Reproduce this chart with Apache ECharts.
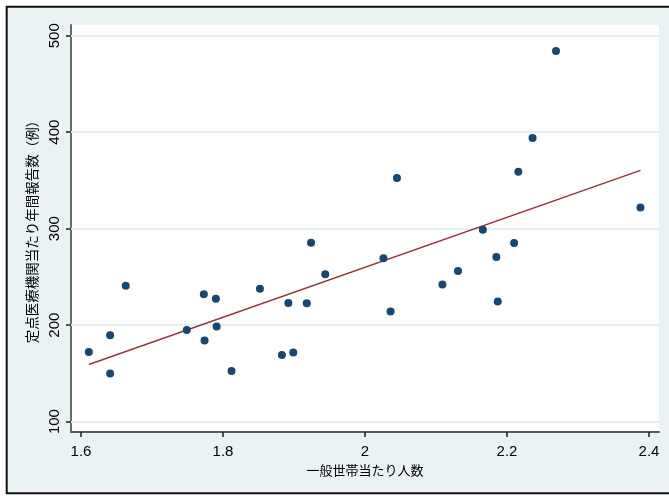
<!DOCTYPE html>
<html>
<head>
<meta charset="utf-8">
<script src="https://cdn.jsdelivr.net/npm/echarts@6/dist/echarts.min.js"></script>
<style>
html,body{margin:0;padding:0;background:#fff;}
#chart{width:669px;height:496px;}
</style>
</head>
<body>
<div id="chart"></div>
<script>
// Data
const householdSize = [1.611,1.641,1.641,1.663,1.749,1.773,1.774,1.790,1.791,1.812,1.852,1.883,1.892,1.899,1.918,1.924,1.944,2.026,2.036,2.045,2.109,2.131,2.166,2.185,2.187,2.210,2.216,2.236,2.269,2.388];
const reports = [172.2,189.5,149.8,240.7,195.0,232.0,184.0,227.2,198.5,152.5,237.6,169.1,223.0,171.6,222.7,285.3,252.8,269.4,214.1,352.4,242.1,256.2,298.8,270.7,224.5,285.0,358.9,393.9,484.1,322.0];
const fitX = [1.611, 2.388];
const fitY = [159.1, 360.4];
const xTicks = [1.6, 1.8, 2.0, 2.2, 2.4];
const yTicks = [100, 200, 300, 400, 500];
const xTitle = '一般世帯当たり人数';
const yTitle = '定点医療機関当たり年間報告数（例）';

const scatterData = householdSize.map((x, i) => [x, reports[i]]);
const fitData = fitX.map((x, i) => [x, fitY[i]]);

const chart = echarts.init(document.getElementById('chart'), null, {renderer: 'canvas'});
chart.setOption({
  animation: false,
  backgroundColor: '#ffffff',
  graphic: [{
    type: 'rect',
    z: -10,
    shape: {x: 6.7, y: 6.7, width: 700, height: 486.6},
    style: {fill: '#eaf2f3', stroke: '#111111', lineWidth: 2}
  }],
  grid: {
    left: 71, right: 10, top: 25, bottom: 64,
    show: true, backgroundColor: '#ffffff', borderWidth: 0
  },
  xAxis: {
    type: 'value',
    min: 1.5859, max: 2.4141,
    name: xTitle,
    nameLocation: 'middle',
    nameGap: 26,
    nameTextStyle: {fontFamily: 'Noto Sans CJK JP', fontSize: 13, color: '#000'},
    axisLine: {show: true, onZero: false, lineStyle: {color: '#5a5a5a', width: 2}},
    axisTick: {show: true, length: 5, customValues: xTicks, lineStyle: {color: '#222', width: 1.5}},
    axisLabel: {customValues: xTicks, margin: 12, fontFamily: 'Liberation Sans', fontSize: 15, color: '#000',
      formatter: v => String(Math.round(v * 10) / 10)},
    splitLine: {show: false}
  },
  yAxis: {
    type: 'value',
    min: 89.2, max: 511.1,
    name: yTitle,
    nameLocation: 'middle',
    nameRotate: 90,
    nameGap: 25,
    nameTextStyle: {fontFamily: 'Noto Sans CJK JP', fontSize: 13.5, color: '#000'},
    axisLine: {show: true, onZero: false, lineStyle: {color: '#6a6a6a', width: 2}},
    axisTick: {show: true, length: 5, customValues: yTicks, lineStyle: {color: '#222', width: 1.5}},
    axisLabel: {customValues: yTicks, rotate: 90, margin: 9, fontFamily: 'Liberation Sans', fontSize: 15, color: '#000'},
    splitLine: {show: false}
  },
  series: [{
    type: 'scatter',
    data: scatterData,
    symbol: 'circle',
    symbolSize: 8,
    itemStyle: {color: '#1a476f', opacity: 1},
    z: 3,
    markLine: {
      silent: true,
      symbol: 'none',
      label: {show: false},
      lineStyle: {color: '#e6eef0', width: 2, type: 'solid'},
      data: yTicks.map(v => ({yAxis: v})),
      z: 1
    }
  }, {
    type: 'line',
    data: fitData,
    showSymbol: false,
    symbol: 'none',
    lineStyle: {color: '#90353b', width: 1.5},
    z: 2
  }]
});
</script>
</body>
</html>
